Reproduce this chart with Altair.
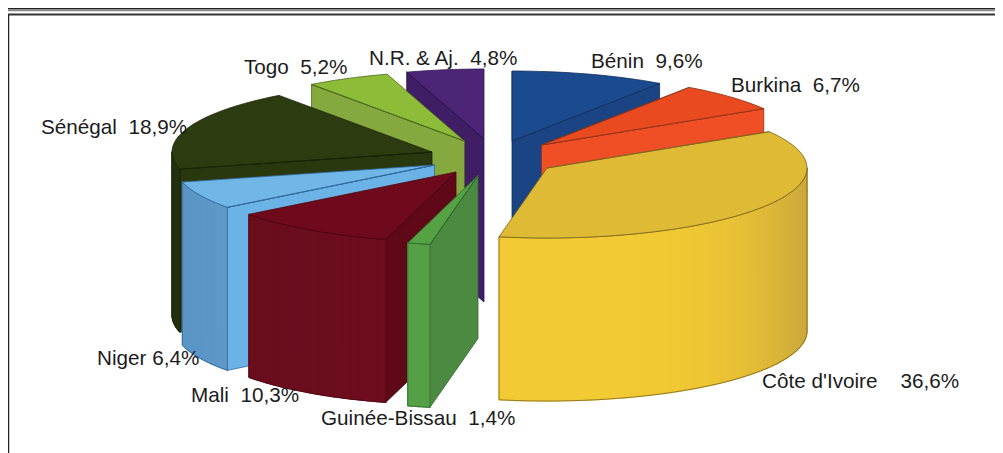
import math
import altair as alt
import pandas as pd

# --- chart values ---
names = ["Bénin", "Burkina", "Côte d'Ivoire", "Guinée-Bissau", "Mali", "Niger", "Sénégal", "Togo", "N.R. & Aj."]
shares = [9.6, 6.7, 36.6, 1.4, 10.3, 6.4, 18.9, 5.2, 4.8]
gaps = ["\u00a0\u00a0", "\u00a0\u00a0", "\u00a0\u00a0\u00a0\u00a0", "\u00a0\u00a0", "\u00a0\u00a0", "\u00a0", "\u00a0\u00a0", "\u00a0\u00a0", "\u00a0\u00a0"]

# --- slice styling ---
top_col = ["#1c4a8e", "#e94a20", "#dfba34", "#54a244", "#6e0a1c", "#70b6e6", "#2d3b10", "#8dbc38", "#4d2577"]
wall_col = ["#1b4484", "#f04e24", "#f2ca33", "#55a047", "#6d0d1e", "#5f9bcd", "#263510", "#86a93f", "#3f1e66"]
edge_col = ["#1b4484", "#f04e24", "#c9a73c", "#55a047", "#640c1b", "#5a94c4", "#223010", "#86a93f", "#3f1e66"]
side_col = ["#1b4484", "#f04e24", "#f2ca33", "#4c8a42", "#5f0818", "#6bb3e6", "#2a3810", "#86a93f", "#3f1e66"]
line_col = ["#12305f", "#8a3416", "#7a6420", "#2f6a2c", "#4c0612", "#2e6a9a", "#1a2408", "#4c6a20", "#2c1450"]

# --- 3D pie geometry: common centre, per-slice explosion, ellipse, depth ---
centre = (480.0, 150.0)
explode_x = [32, 61.5, 67, -2, -24, -45.5, -48, -15.5, 4]
explode_y = [-9, -5, 18, 25.5, 22, 15, 2, -9, -11]
rx, ry, depth = 260.0, 70.0, 163.0
paint_order = [8, 7, 0, 1, 6, 5, 4, 3, 2]

# --- label anchors ---
label_x = [591, 731, 762, 321, 191, 97, 41, 244, 369]
label_y = [62, 86, 382, 419, 396, 359, 128, 68, 59]


def lerp(c1, c2, t):
    a = [int(c1[i:i + 2], 16) for i in (1, 3, 5)]
    b = [int(c2[i:i + 2], 16) for i in (1, 3, 5)]
    return "#%02x%02x%02x" % tuple(round(p + (q - p) * t) for p, q in zip(a, b))


rows = []
poly_id = [0]


def add(points, fill, stroke, sw):
    pid = poly_id[0]
    poly_id[0] += 1
    for seq, (x, y) in enumerate(points + [points[0], points[1]]):
        rows.append(dict(x=x, y=y, poly=pid, seq=seq, fill=fill, stroke=stroke, sw=sw))


starts = []
acc = 0.0
total = sum(shares)
for s in shares:
    starts.append(acc)
    acc += s / total * 360.0

for i in paint_order:
    a1 = starts[i]
    a2 = a1 + shares[i] / total * 360.0
    ax = centre[0] + explode_x[i]
    ay = centre[1] + explode_y[i]

    def rim(a):
        r = math.radians(a)
        return (ax + rx * math.sin(r), ay - ry * math.cos(r))

    # radial walls that face the viewer
    for ang, normal in ((a1, a1 - 90), (a2, a2 + 90)):
        if math.cos(math.radians(normal - 180)) > 0:
            p = rim(ang)
            add([(ax, ay), p, (p[0], p[1] + depth), (ax, ay + depth)], side_col[i], line_col[i], 0.8)

    # outer wall, shaded strip by strip
    lo, hi = max(a1, 90.0), min(a2, 270.0)
    if hi > lo:
        n = max(1, int((hi - lo) / 2))
        angs = [lo + (hi - lo) * k / n for k in range(n + 1)]
        for u, v in zip(angs[:-1], angs[1:]):
            t = abs(math.sin(math.radians((u + v) / 2))) ** 4
            c = lerp(wall_col[i], edge_col[i], t)
            p, q = rim(u), rim(v)
            add([p, q, (q[0], q[1] + depth), (p[0], p[1] + depth)], c, c, 1.3)
        upper = [rim(a) for a in angs]
        lower = [(x, y + depth) for x, y in reversed(upper)]
        add(upper + lower, "transparent", line_col[i], 0.8)

    # top face
    n = max(2, int((a2 - a1) / 2))
    arc = [rim(a1 + (a2 - a1) * k / n) for k in range(n + 1)]
    add([(ax, ay)] + arc, top_col[i], line_col[i], 0.8)

df = pd.DataFrame(rows)

labels = pd.DataFrame({
    "text": [f"{n}{g}{str(s).replace('.', ',')}%" for n, g, s in zip(names, gaps, shares)],
    "x": label_x,
    "y": label_y,
})

X = alt.X("x:Q", axis=None, scale=alt.Scale(domain=[8, 995], nice=False, zero=False))
Y = alt.Y("y:Q", axis=None, scale=alt.Scale(domain=[453, 8], nice=False, zero=False))

pie = alt.Chart(df).mark_line(clip=False, strokeJoin="round").encode(
    x=X, y=Y,
    detail="poly:N",
    order="seq:Q",
    fill=alt.Fill("fill:N", scale=None),
    stroke=alt.Stroke("stroke:N", scale=None),
    strokeWidth=alt.StrokeWidth("sw:Q", scale=None),
)

text = alt.Chart(labels).mark_text(
    font="Liberation Sans", fontSize=20.7, align="left", baseline="middle", color="#1c1c1c"
).encode(x=X, y=Y, text="text:N")

frame_y = pd.DataFrame({"y": [8.5, 10.5, 14.5], "w": [2.0, 1.5, 2.0], "c": ["#222222", "#888888", "#333333"]})
frame_top = alt.Chart(frame_y).mark_rule().encode(
    y=Y,
    x=alt.value(0), x2=alt.value(987),
    strokeWidth=alt.StrokeWidth("w:Q", scale=None),
    color=alt.Color("c:N", scale=None),
)
frame_left = alt.Chart(pd.DataFrame({"x": [8.5], "a": [15], "b": [453]})).mark_rule(color="#222222", strokeWidth=1.5).encode(
    x=X, y=alt.Y("a:Q", axis=None, scale=alt.Scale(domain=[453, 8], nice=False, zero=False)), y2="b:Q"
)

chart = (frame_top + frame_left + pie + text).properties(
    width=987, height=445, padding=0, autosize=alt.AutoSizeParams(type="none"), background="white"
).configure_view(stroke=None)

chart.save("out.html", embed_options={"renderer": "svg", "actions": False})
